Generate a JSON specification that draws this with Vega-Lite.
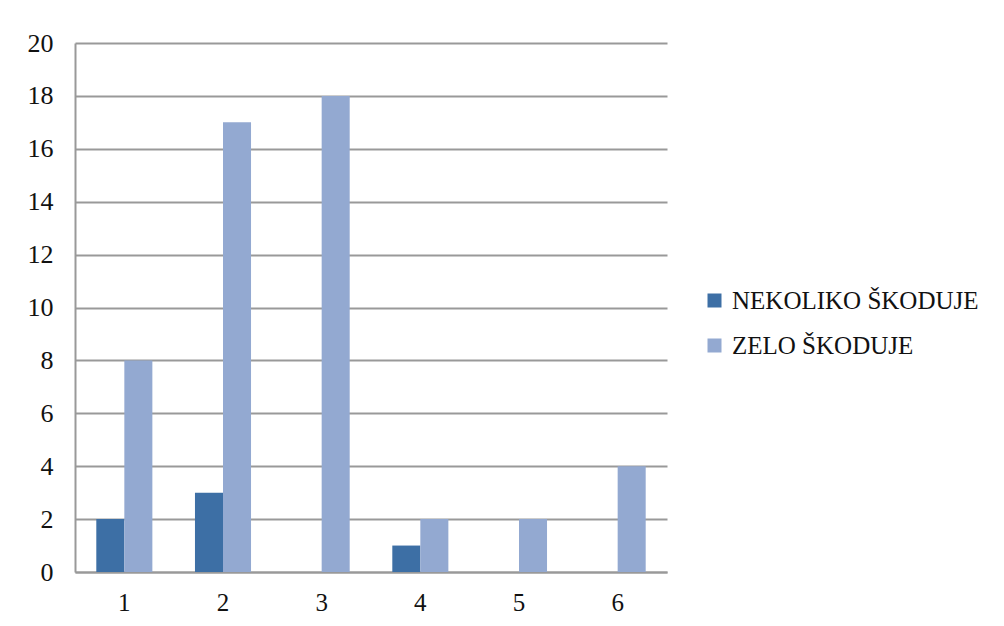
{
  "$schema": "https://vega.github.io/schema/vega-lite/v6.json",
  "autosize": "none",
  "width": 592,
  "height": 529,
  "padding": {"left": 75, "top": 43, "right": 337, "bottom": 54},
  "background": "white",
  "data": {"values": [
    {"cat": "1", "series": "NEKOLIKO ŠKODUJE", "value": 2},
    {"cat": "1", "series": "ZELO ŠKODUJE", "value": 8},
    {"cat": "2", "series": "NEKOLIKO ŠKODUJE", "value": 3},
    {"cat": "2", "series": "ZELO ŠKODUJE", "value": 17},
    {"cat": "3", "series": "NEKOLIKO ŠKODUJE", "value": 0},
    {"cat": "3", "series": "ZELO ŠKODUJE", "value": 18},
    {"cat": "4", "series": "NEKOLIKO ŠKODUJE", "value": 1},
    {"cat": "4", "series": "ZELO ŠKODUJE", "value": 2},
    {"cat": "5", "series": "NEKOLIKO ŠKODUJE", "value": 0},
    {"cat": "5", "series": "ZELO ŠKODUJE", "value": 2},
    {"cat": "6", "series": "NEKOLIKO ŠKODUJE", "value": 0},
    {"cat": "6", "series": "ZELO ŠKODUJE", "value": 4}
  ]},
  "mark": {"type": "bar"},
  "encoding": {
    "x": {
      "field": "cat", "type": "nominal",
      "scale": {"paddingInner": 0, "paddingOuter": 0},
      "axis": {"title": null, "labelAngle": 0, "ticks": false, "labelPadding": 18, "labelFont": "Liberation Serif", "labelFontSize": 25, "domainColor": "#999999", "domainWidth": 2}
    },
    "xOffset": {
      "field": "series", "type": "nominal",
      "scale": {"paddingInner": 0, "paddingOuter": 0.76}
    },
    "y": {
      "field": "value", "type": "quantitative",
      "scale": {"domain": [0, 20], "nice": false},
      "axis": {"title": null, "values": [0, 2, 4, 6, 8, 10, 12, 14, 16, 18, 20], "ticks": false, "labelPadding": 22, "labelFont": "Liberation Serif", "labelFontSize": 26, "domainColor": "#999999", "domainWidth": 2, "grid": true, "gridColor": "#999999", "gridWidth": 2}
    },
    "color": {
      "field": "series", "type": "nominal",
      "scale": {"domain": ["NEKOLIKO ŠKODUJE", "ZELO ŠKODUJE"], "range": ["#3D6FA5", "#93A9D1"]},
      "legend": {"title": null, "orient": "none", "legendX": 627, "legendY": 245, "padding": 0, "symbolType": "square", "symbolSize": 196, "symbolStrokeWidth": 0, "labelFont": "Liberation Serif", "labelFontSize": 25, "labelLimit": 400, "rowPadding": 19, "labelOffset": 5}
    }
  },
  "config": {
    "view": {"stroke": null},
    "axis": {"labelColor": "#111111"},
    "legend": {"labelColor": "#111111"}
  }
}
